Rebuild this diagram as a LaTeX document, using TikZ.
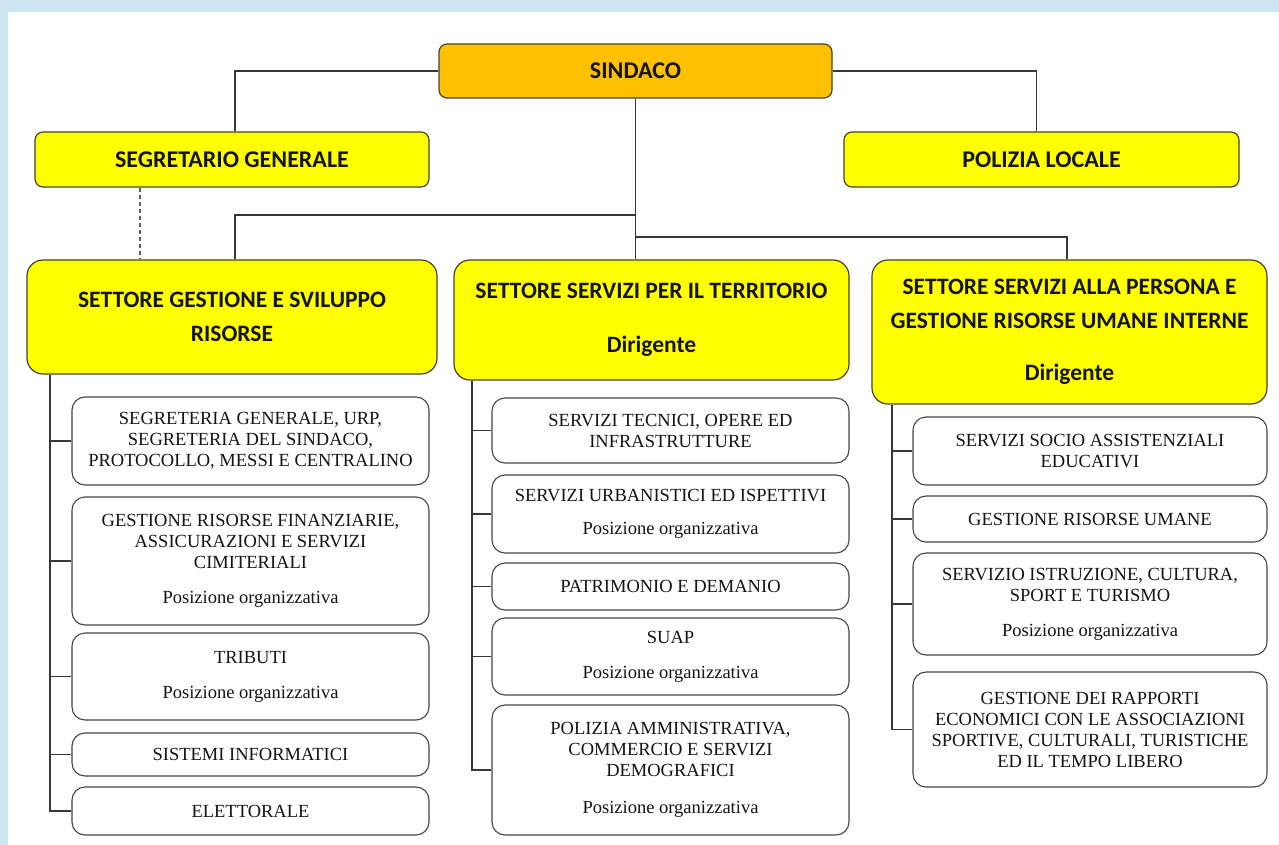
\documentclass[tikz,border=0pt]{standalone}
\usepackage{fontspec}
\setmainfont{Liberation Serif}
\newfontfamily\hdr{Carlito}
\definecolor{bgblue}{RGB}{203,230,241}
\definecolor{yel}{RGB}{255,255,0}
\definecolor{org}{RGB}{255,192,0}
\definecolor{bordC}{RGB}{70,68,40}
\definecolor{childC}{RGB}{70,70,70}
\definecolor{lineC}{RGB}{55,55,55}
\definecolor{txt}{RGB}{20,20,20}
\tikzset{
  conn/.style={draw=lineC, line width=1.2pt},
  topbox/.style={draw=bordC, line width=1.2pt, rounded corners=8pt, fill=yel,
    font=\hdr\bfseries\fontsize{24}{34}\selectfont, text=txt, inner sep=0pt, align=center},
  settbox/.style={topbox, rounded corners=16pt, font=\hdr\bfseries\fontsize{23.5}{34}\selectfont},
  childbox/.style={draw=childC, line width=1.1pt, rounded corners=13pt, fill=white,
    font=\fontsize{18.5}{21}\selectfont, text=txt, inner sep=0pt, align=center},
}
\begin{document}
\begin{tikzpicture}[x=1pt,y=-1pt]
\useasboundingbox (0,0) rectangle (1279,845);
\fill[bgblue] (0,0) rectangle (1279,845);
\fill[white] (8,12) rectangle (1279,845);

% top level
\node[topbox, fill=org, minimum width=393pt, minimum height=54pt] (sind) at (635.5,71) {SINDACO};
\node[topbox, minimum width=394pt, minimum height=55pt] (seg) at (232,159.5) {SEGRETARIO GENERALE};
\node[topbox, minimum width=395pt, minimum height=55pt] (pol) at (1041.5,159.5) {POLIZIA LOCALE};

% settori
\node[settbox, minimum width=410pt, minimum height=114pt] (s1) at (232,317)
  {SETTORE GESTIONE E SVILUPPO\\RISORSE};
\node[settbox, minimum width=395pt, minimum height=120pt] (s2) at (651.5,320)
  {SETTORE SERVIZI PER IL TERRITORIO\\[20pt]Dirigente};
\node[settbox, minimum width=395pt, minimum height=144pt] (s3) at (1069.5,332)
  {SETTORE SERVIZI ALLA PERSONA E\\GESTIONE RISORSE UMANE INTERNE\\[18pt]Dirigente};

% left column
\node[childbox, minimum width=357pt, minimum height=88pt] (c11) at (250.5,441)
  {SEGRETERIA GENERALE, URP,\\SEGRETERIA DEL SINDACO,\\PROTOCOLLO, MESSI E CENTRALINO};
\node[childbox, minimum width=357pt, minimum height=128pt] (c12) at (250.5,561)
  {GESTIONE RISORSE FINANZIARIE,\\ASSICURAZIONI E SERVIZI\\CIMITERIALI\\[14pt]Posizione organizzativa};
\node[childbox, minimum width=357pt, minimum height=87pt] (c13) at (250.5,676.5)
  {TRIBUTI\\[14pt]Posizione organizzativa};
\node[childbox, minimum width=357pt, minimum height=43pt] (c14) at (250.5,754.5)
  {SISTEMI INFORMATICI};
\node[childbox, minimum width=357pt, minimum height=48pt] (c15) at (250.5,811)
  {ELETTORALE};

% middle column
\node[childbox, minimum width=357pt, minimum height=65pt] (c21) at (670.5,430.5)
  {SERVIZI TECNICI, OPERE ED\\INFRASTRUTTURE};
\node[childbox, minimum width=357pt, minimum height=78pt] (c22) at (670.5,514)
  {SERVIZI URBANISTICI ED ISPETTIVI\\[12pt]Posizione organizzativa};
\node[childbox, minimum width=357pt, minimum height=47pt] (c23) at (670.5,586.5)
  {PATRIMONIO E DEMANIO};
\node[childbox, minimum width=357pt, minimum height=77pt] (c24) at (670.5,656.5)
  {SUAP\\[14pt]Posizione organizzativa};
\node[childbox, minimum width=357pt, minimum height=130pt] (c25) at (670.5,770)
  {POLIZIA AMMINISTRATIVA,\\COMMERCIO E SERVIZI\\DEMOGRAFICI\\[16pt]Posizione organizzativa};

% right column
\node[childbox, minimum width=354pt, minimum height=68pt] (c31) at (1090,451)
  {SERVIZI SOCIO ASSISTENZIALI\\EDUCATIVI};
\node[childbox, minimum width=354pt, minimum height=46pt] (c32) at (1090,519)
  {GESTIONE RISORSE UMANE};
\node[childbox, minimum width=354pt, minimum height=102pt] (c33) at (1090,604)
  {SERVIZIO ISTRUZIONE, CULTURA,\\SPORT E TURISMO\\[14pt]Posizione organizzativa};
\node[childbox, minimum width=354pt, minimum height=115pt] (c34) at (1090,729.5)
  {GESTIONE DEI RAPPORTI\\ECONOMICI CON LE ASSOCIAZIONI\\SPORTIVE, CULTURALI, TURISTICHE\\ED IL TEMPO LIBERO};

% connectors top
\coordinate (jl) at (0,215);
\coordinate (jr) at (0,237);
\coordinate (dx) at (140,0);
\draw[conn] (sind.west) -| ([xshift=3pt]seg.north);
\draw[conn] (sind.east) -| ([xshift=-5pt]pol.north);
\draw[conn] (sind.south) -- (sind.south |- s2.north);
\draw[conn] (sind.south |- jl) -| ([xshift=3pt]s1.north);
\draw[conn] (sind.south |- jr) -| ([xshift=-2.5pt]s3.north);
\draw[conn, draw=lineC!80, dash pattern=on 4pt off 3pt] (seg.south -| dx) -- (s1.north -| dx);

% trunks
\coordinate (t1) at (50,0);
\coordinate (t2) at (472,0);
\coordinate (t3) at (892,0);
\draw[conn] (s1.south -| t1) |- (c15.west);
\foreach \c in {c11,c12,c13,c14} \draw[conn] (t1 |- \c.west) -- (\c.west);
\draw[conn] (s2.south -| t2) |- (c25.west);
\foreach \c in {c21,c22,c23,c24} \draw[conn] (t2 |- \c.west) -- (\c.west);
\draw[conn] (s3.south -| t3) |- (c34.west);
\foreach \c in {c31,c32,c33} \draw[conn] (t3 |- \c.west) -- (\c.west);
\end{tikzpicture}
\end{document}
